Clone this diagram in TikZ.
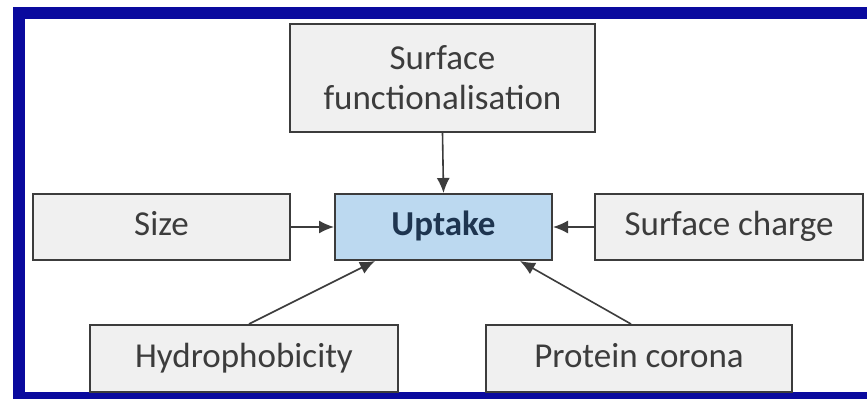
\documentclass[tikz,border=0pt]{standalone}
\usepackage{fontspec}
\setmainfont{Carlito}
\usetikzlibrary{arrows.meta}
\definecolor{frameblue}{HTML}{0A0A9E}
\definecolor{boxgray}{HTML}{F0F0F0}
\definecolor{edgegray}{HTML}{3C3C3C}
\definecolor{upblue}{HTML}{BCD9F0}
\definecolor{upnavy}{HTML}{1E3550}
\tikzset{
  factor/.style={draw=edgegray, line width=2pt, fill=boxgray, text=edgegray,
    inner sep=0pt, font=\fontsize{35}{40}\selectfont, align=center},
  oneline/.style={factor, text height=25pt, text depth=8pt},
  arr/.style={-{Latex[length=15pt,width=13pt]}, line width=1.6pt, draw=edgegray},
}
\begin{document}
\begin{tikzpicture}[x=1pt, y=-1pt]
\useasboundingbox (0,0) rectangle (867,399);
\fill[white] (0,0) rectangle (867,399);
% frame
\fill[frameblue] (13,7) rectangle (867,19);
\fill[frameblue] (13,7) rectangle (25,399);
\fill[frameblue] (13,392) rectangle (867,399);
% boxes
\node[factor, minimum width=305pt, minimum height=108pt] (func) at (442.5,78) {Surface\\functionalisation};
\node[oneline, minimum width=257pt, minimum height=66pt] (size) at (161.5,227) {Size};
\node[oneline, fill=upblue, text=upnavy, font=\fontsize{35}{40}\selectfont\bfseries,
  minimum width=217pt, minimum height=66pt] (up) at (443.5,227) {Uptake};
\node[oneline, minimum width=268pt, minimum height=66pt] (charge) at (729,227) {Surface charge};
\node[oneline, minimum width=308pt, minimum height=67pt] (hydro) at (244,358.5) {Hydrophobicity};
\node[oneline, minimum width=306pt, minimum height=67pt] (corona) at (639,358.5) {Protein corona};
% connectors
\draw[arr] (func.south) -- (up.north);
\draw[arr] (size.east) -- (up.west);
\draw[arr] (charge.west) -- (up.east);
\draw[arr] ([xshift=160pt]hydro.north west) -- ([xshift=41pt]up.south west);
\draw[arr] ([xshift=146pt]corona.north west) -- ([xshift=-33pt]up.south east);
\end{tikzpicture}
\end{document}
